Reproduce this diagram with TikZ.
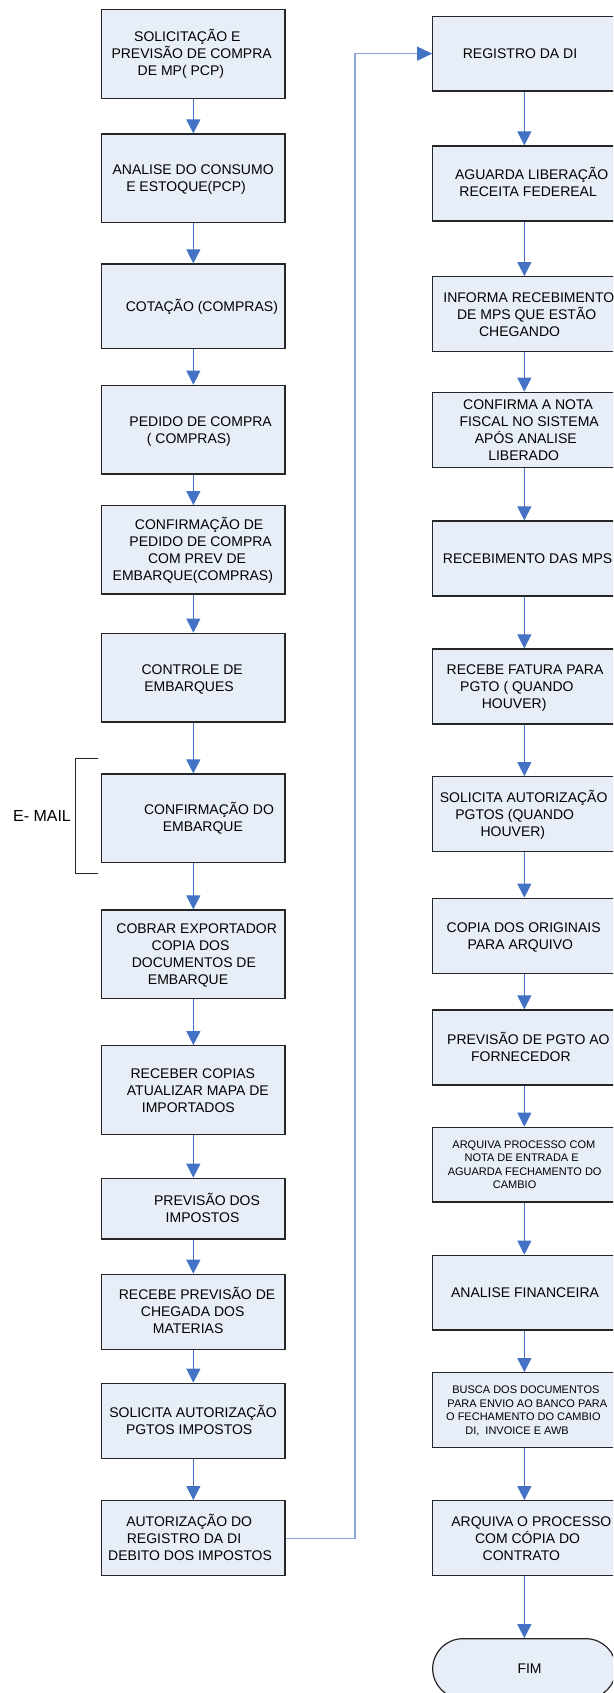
\documentclass[tikz,border=0pt]{standalone}
\usepackage{fontspec}
\setmainfont{Liberation Sans}
\usetikzlibrary{arrows.meta}

\definecolor{boxfill}{HTML}{E8EEF7}
\definecolor{boxline}{HTML}{262626}
\definecolor{flowblue}{HTML}{4472C4}
\definecolor{linkblue}{HTML}{8AA6DA}

% one line of a box label, centred #1 pt right of the box centre
\newcommand\curstrut{}
\newcommand\lineat[2]{\makebox[0pt]{\hspace*{#1pt}\hspace*{#1pt}#2}\curstrut}

\tikzset{
  stepbox/.style={draw=boxline, line width=1.2pt, fill=boxfill,
    minimum width=183.3pt, inner sep=0pt, align=center,
    font={\fontsize{14}{17}\selectfont\def\curstrut{\rule[-3.5pt]{0pt}{17pt}}}},
  smallbox/.style={stepbox,
    font={\fontsize{11}{13.4}\selectfont\def\curstrut{\rule[-2.76pt]{0pt}{13.4pt}}}},
  endbox/.style={stepbox, rounded corners=30pt, minimum height=60pt},
  flow/.style={draw=flowblue, line width=1pt, -{Triangle[length=14pt,width=14pt]}},
  link/.style={draw=linkblue, line width=1.2pt,
    -{Triangle[length=15pt,width=14pt,color=flowblue]}},
  bracket/.style={draw=boxline, line width=1pt}
}

\begin{document}
\begin{tikzpicture}[x=1pt, y=-1pt]
\useasboundingbox (0,0) rectangle (613,1693);
\clip (0,0) rectangle (613,1693);

% ---- left column ----
\node[stepbox, minimum height=88.6pt] (L1) at (193.35,54) {\lineat{-6}{SOLICITAÇÃO E}\\\lineat{-1.7}{PREVISÃO DE COMPRA}\\\lineat{-12.5}{DE MP( PCP)}};
\node[stepbox, minimum height=88.7pt] (L2) at (193.35,178.35) {\lineat{-0.2}{ANALISE DO CONSUMO}\\\lineat{-7.3}{E ESTOQUE(PCP)}};
\node[stepbox, minimum height=84.7pt] (L3) at (193.35,306.35) {\lineat{8.5}{COTAÇÃO (COMPRAS)}};
\node[stepbox, minimum height=88.7pt] (L4) at (193.35,429.65) {\lineat{7.3}{PEDIDO DE COMPRA}\\\lineat{-4.5}{( COMPRAS)}};
\node[stepbox, minimum height=88.3pt] (L5) at (193.35,549.85) {\lineat{5.8}{CONFIRMAÇÃO DE}\\\lineat{7.3}{PEDIDO DE COMPRA}\\\lineat{3.7}{COM PREV DE}\\\lineat{-0.5}{EMBARQUE(COMPRAS)}};
\node[stepbox, minimum height=88.7pt] (L6) at (193.35,677.65) {\lineat{-1.2}{CONTROLE DE}\\\lineat{-4.3}{EMBARQUES}};
\node[stepbox, minimum height=88.7pt] (L7) at (193.35,818.35) {\lineat{15.7}{CONFIRMAÇÃO DO}\\\lineat{9.5}{EMBARQUE}};
\node[stepbox, minimum height=88.7pt] (L8) at (193.35,954.35) {\lineat{3.3}{COBRAR EXPORTADOR}\\\lineat{-2.8}{COPIA DOS}\\\lineat{0.5}{DOCUMENTOS DE}\\\lineat{-5.3}{EMBARQUE}};
\node[stepbox, minimum height=89pt] (L9) at (193.35,1090.2) {\lineat{-0.5}{RECEBER COPIAS}\\\lineat{4.5}{ATUALIZAR MAPA DE}\\\lineat{-5}{IMPORTADOS}};
\node[stepbox, minimum height=60.7pt] (L10) at (193.35,1208.65) {\lineat{13.7}{PREVISÃO DOS}\\\lineat{9.2}{IMPOSTOS}};
\node[stepbox, minimum height=75pt] (L11) at (193.35,1311.8) {\lineat{3.7}{RECEBE PREVISÃO DE}\\\lineat{-0.7}{CHEGADA DOS}\\\lineat{-5.2}{MATERIAS}};
\node[stepbox, minimum height=75pt] (L12) at (193.35,1420.8) {\lineat{-0.3}{SOLICITA AUTORIZAÇÃO}\\\lineat{-4.2}{PGTOS IMPOSTOS}};
\node[stepbox, minimum height=75pt] (L13) at (193.35,1538.2) {\lineat{-4.2}{AUTORIZAÇÃO DO}\\\lineat{-9.3}{REGISTRO DA DI}\\\lineat{-3.3}{DEBITO DOS IMPOSTOS}};

% ---- right column ----
\node[stepbox, minimum height=74.7pt] (R1) at (524.35,53.65) {\lineat{-4.3}{REGISTRO DA DI}};
\node[stepbox, minimum height=75pt] (R2) at (524.35,183.5) {\lineat{7.3}{AGUARDA LIBERAÇÃO}\\\lineat{3.8}{RECEITA FEDEREAL}};
\node[stepbox, minimum height=75pt] (R3) at (524.35,314.2) {\lineat{4.5}{INFORMA RECEBIMENTO}\\\lineat{2.3}{DE MPS QUE ESTÃO}\\\lineat{-4.8}{CHEGANDO}};
\node[stepbox, minimum height=75pt] (R4) at (524.35,429.8) {\lineat{3.7}{CONFIRMA A NOTA}\\\lineat{4.8}{FISCAL NO SISTEMA}\\\lineat{1.5}{APÓS ANALISE}\\\lineat{-0.7}{LIBERADO}};
\node[stepbox, minimum height=75pt] (R5) at (524.35,558.5) {\lineat{3.2}{RECEBIMENTO DAS MPS}};
\node[stepbox, minimum height=75pt] (R6) at (524.35,686.5) {\lineat{0.7}{RECEBE FATURA PARA}\\\lineat{-7.5}{PGTO ( QUANDO}\\\lineat{-10.2}{HOUVER)}};
\node[stepbox, minimum height=75pt] (R7) at (524.35,814.2) {\lineat{-0.7}{SOLICITA AUTORIZAÇÃO}\\\lineat{-9.7}{PGTOS (QUANDO}\\\lineat{-11.5}{HOUVER)}};
\node[stepbox, minimum height=75pt] (R8) at (524.35,935.8) {\lineat{-0.7}{COPIA DOS ORIGINAIS}\\\lineat{-4}{PARA ARQUIVO}};
\node[stepbox, minimum height=75pt] (R9) at (524.35,1047.5) {\lineat{4}{PREVISÃO DE PGTO AO}\\\lineat{-3.5}{FORNECEDOR}};
\node[smallbox, minimum height=74.7pt] (R10) at (524.35,1164.65) {\lineat{-0.5}{ARQUIVA PROCESSO COM}\\\lineat{-2.7}{NOTA DE ENTRADA E}\\\lineat{0.3}{AGUARDA FECHAMENTO DO}\\\lineat{-9.7}{CAMBIO}};
\node[stepbox, minimum height=74.7pt] (R11) at (524.35,1292.65) {\lineat{0.7}{ANALISE FINANCEIRA}};
\node[smallbox, minimum height=74.6pt] (R12) at (524.35,1410) {\lineat{1.5}{BUSCA DOS DOCUMENTOS}\\\lineat{3}{PARA ENVIO AO BANCO PARA}\\\lineat{-1}{O FECHAMENTO DO CAMBIO}\\\lineat{-7.3}{DI,~~INVOICE E AWB}};
\node[stepbox, minimum height=75pt] (R13) at (524.35,1538.2) {\lineat{7}{ARQUIVA O PROCESSO}\\\lineat{3.2}{COM CÓPIA DO}\\\lineat{-3}{CONTRATO}};
\node[endbox] (FIM) at (524.35,1668.7) {\lineat{5.2}{FIM}};

% ---- e-mail bracket ----
\coordinate (bt) at (98.3,758.3);
\coordinate (bb) at (98.3,873.3);
\coordinate (bx) at (75.7,0);
\draw[bracket] (bt) -- (bt -| bx) -- (bb -| bx) -- (bb);
\node[font=\fontsize{16}{19}\selectfont, inner sep=0pt] (email) at (42,816) {E- MAIL};

% ---- connectors ----
\foreach \a/\b in {L1/L2,L2/L3,L3/L4,L4/L5,L5/L6,L6/L7,L7/L8,L8/L9,L9/L10,L10/L11,L11/L12,L12/L13,
                   R1/R2,R2/R3,R3/R4,R4/R5,R5/R6,R6/R7,R7/R8,R8/R9,R9/R10,R10/R11,R11/R12,R12/R13,R13/FIM}
  \draw[flow] (\a.south) -- (\b.north);

\coordinate (turn) at (355,0);
\draw[link] (L13.east) -- (L13.east -| turn) -- (R1.west -| turn) -- (R1.west);
\end{tikzpicture}
\end{document}
